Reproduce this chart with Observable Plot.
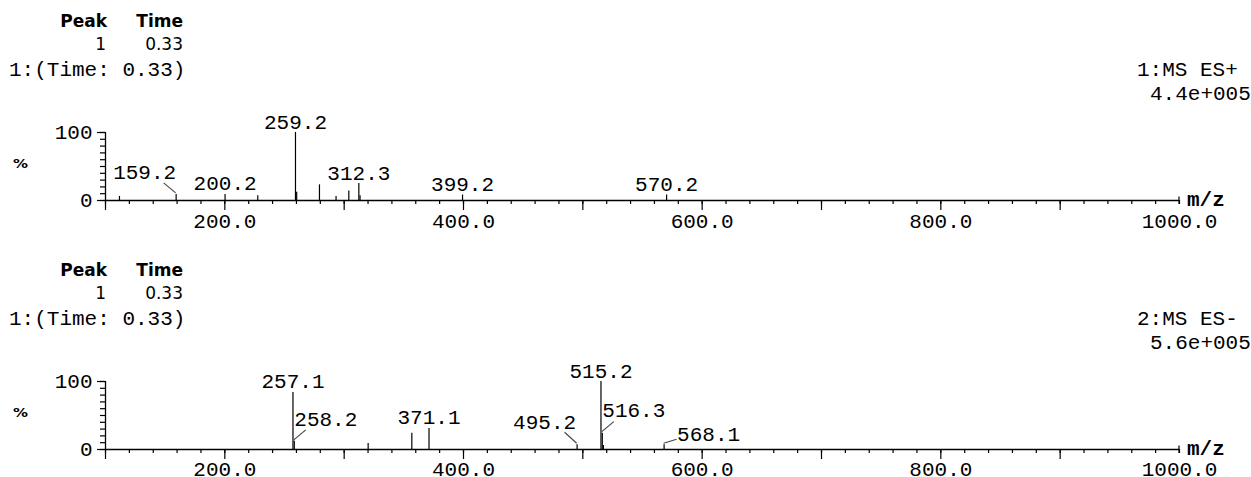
<!DOCTYPE html>
<html>
<head>
<meta charset="utf-8">
<script src="https://cdn.jsdelivr.net/npm/d3@7"></script>
<script src="https://cdn.jsdelivr.net/npm/@observablehq/plot@0.6"></script>
<style>
  html, body { margin: 0; padding: 0; background: #fff; }
  #chart { width: 1251px; height: 477px; overflow: hidden; position: relative; }
  #chart svg { display: block; }
</style>
</head>
<body>
<div id="chart"></div>
<script>
// ---------- DATA ----------
// Panel 1: 1:MS ES+
const posMz     = [111.7, 159.2, 200.2, 227.6, 259.2, 260.2, 279.3, 293.2, 303.9, 312.3, 313.3, 399.2, 570.2];
const posInt    = [6, 9, 9, 7, 100, 12, 23, 6, 14, 25, 7, 8, 8];
const posLabels = ["159.2", "200.2", "259.2", "312.3", "399.2", "570.2"];

// Panel 2: 2:MS ES-
const negMz     = [257.1, 258.2, 320.1, 356.7, 371.1, 495.2, 515.2, 516.3, 517.2, 568.1];
const negInt    = [84, 12, 9, 24, 31, 7, 100, 24, 6, 7];
const negLabels = ["257.1", "258.2", "371.1", "495.2", "515.2", "516.3", "568.1"];

const panelFunctions = ["1:MS ES+", "2:MS ES-"];
const panelScales    = ["4.4e+005", "5.6e+005"];
const peakHeader     = ["Peak", "Time"];
const peakRow        = ["1", "0.33"];
const scanTitle      = "1:(Time: 0.33)";
const xUnit          = "m/z";
const yUnit          = "%";

const xDomain      = [100, 1000];
const yDomain      = [0, 100];
const xTicksMinor  = [100,120,140,160,180,200,220,240,260,280,300,320,340,360,380,400,420,440,460,480,500,520,540,560,580,600,620,640,660,680,700,720,740,760,780,800,820,840,860,880,900,920,940,960,980,1000];
const xTicksMajor  = [100, 200, 300, 400, 500, 600, 700, 800, 900];
const xTickLabels  = [200, 400, 600, 800, 1000];
const yTicksMinor  = [0, 10, 20, 30, 40, 50, 60, 70, 80, 90, 100];
const yTickLabels  = [0, 100];

// ---------- LAYOUT (label placement, pixels) ----------
const labelLayout = {
  "159.2": {lx: -12, ly: -11, tx: 0,  ty: -15, anchor: "end"},
  "258.2": {lx: 12,  ly: -11, tx: 0,  ty: -15, anchor: "start"},
  "495.2": {lx: -12, ly: -12, tx: -1, ty: -16, anchor: "end"},
  "516.3": {lx: 12,  ly: -11, tx: 0,  ty: -16, anchor: "start"},
  "568.1": {lx: 13,  ly: -5,  tx: 13, ty: -4,  anchor: "start"}
};
const defaultLayout = {tx: 0, ty: -4, anchor: "middle"};

const MONO = '"Courier New", "Liberation Mono", monospace';
const SANS = '"DejaVu Sans", sans-serif';

function makePanel(mzArr, intArr, labels, idx, height, marginBottom, labelPad) {
  const peaks = mzArr.map((m, i) => ({mz: m, int: intArr[i]}));
  const labeled = labels.map(l => {
    const p = peaks.find(q => q.mz === +l);
    return {label: l, mz: p.mz, int: p.int};
  });

  const labelMarks = labeled.map(d => {
    const L = labelLayout[d.label] || defaultLayout;
    return Plot.text([d], {
      x: "mz", y: "int", text: "label",
      dx: L.tx, dy: L.ty, textAnchor: L.anchor, lineAnchor: "bottom",
      fill: "#000"
    });
  });

  const leaders = (index, scales) => {
    const g = d3.create("svg:g");
    for (const d of labeled) {
      const L = labelLayout[d.label];
      if (!L) continue;
      const x = scales.x(d.mz), y = scales.y(d.int);
      g.append("line")
        .attr("x1", x).attr("y1", y - 1)
        .attr("x2", x + L.lx).attr("y2", y + L.ly)
        .attr("stroke", "#444").attr("stroke-width", 1.1);
    }
    // right-end cap tick of the m/z axis
    const xe = scales.x(xDomain[1]), y0 = scales.y(yDomain[0]);
    g.append("line").attr("x1", xe).attr("x2", xe).attr("y1", y0 - 3.5).attr("y2", y0 + 4)
      .attr("stroke", "#000").attr("stroke-width", 1.2);
    return g.node();
  };

  const svg = Plot.plot({
    width: 1251,
    height: height,
    marginLeft: 105,
    marginRight: 72,
    marginTop: 132,
    marginBottom: marginBottom,
    style: {fontFamily: MONO, fontSize: "21px", color: "#000", background: "#fff", overflow: "visible"},
    x: {domain: xDomain, label: null},
    y: {domain: yDomain, label: null},
    marks: [
      Plot.axisX({ticks: xTicksMinor, tickSize: 4, tickFormat: () => "", label: null, strokeWidth: 1.2}),
      Plot.axisX({ticks: xTicksMajor, tickSize: 10, tickFormat: () => "", label: null, strokeWidth: 1.2}),
      Plot.axisX({ticks: xTickLabels, tickSize: 0, tickPadding: labelPad, tickFormat: d => d.toFixed(1), label: null}),
      Plot.axisY({ticks: yTicksMinor, tickSize: 5, tickFormat: () => "", label: null, strokeWidth: 1.2}),
      Plot.axisY({ticks: yTickLabels, tickSize: 8, tickPadding: 5, tickFormat: d => String(d), label: null, strokeWidth: 1.2}),
      Plot.ruleY([yDomain[0]], {stroke: "#000", strokeWidth: 1.3}),
      Plot.ruleX([xDomain[0]], {y1: yDomain[0], y2: yDomain[1], stroke: "#000", strokeWidth: 1.3}),
      Plot.ruleX(peaks, {x: "mz", y1: 0, y2: "int", stroke: "#000", strokeWidth: 1.2}),
      leaders,
      ...labelMarks
    ]
  });

  const s = d3.select(svg);
  const addText = (x, y, str, anchor, family, size, weight) =>
    s.append("text").attr("x", x).attr("y", y).attr("text-anchor", anchor)
      .attr("font-family", family).attr("font-size", size).attr("font-weight", weight || "normal")
      .attr("fill", "#000").style("white-space", "pre").text(str);
  // header: Peak / Time table
  addText(107, 27, peakHeader[0], "end", SANS, 17, "bold");
  addText(183, 27, peakHeader[1], "end", SANS, 17, "bold");
  addText(106, 50, peakRow[0], "end", SANS, 17);
  addText(183, 50, peakRow[1], "end", SANS, 17);
  // scan title
  addText(9, 76, scanTitle, "start", MONO, 21);
  // function / scale
  addText(1137, 76, panelFunctions[idx], "start", MONO, 21);
  addText(1150, 100, panelScales[idx], "start", MONO, 21);
  // axis units
  addText(1187, 206, xUnit, "start", MONO, 21, "bold");
  const pct = addText(13, 168, yUnit, "start", SANS, 12, "bold");
  pct.attr("textLength", 15).attr("lengthAdjust", "spacingAndGlyphs");
  return svg;
}

const root = document.getElementById("chart");
root.appendChild(makePanel(posMz, posInt, posLabels, 0, 249, 49, 13));
root.appendChild(makePanel(negMz, negInt, negLabels, 1, 228, 28, 12));
</script>
</body>
</html>
